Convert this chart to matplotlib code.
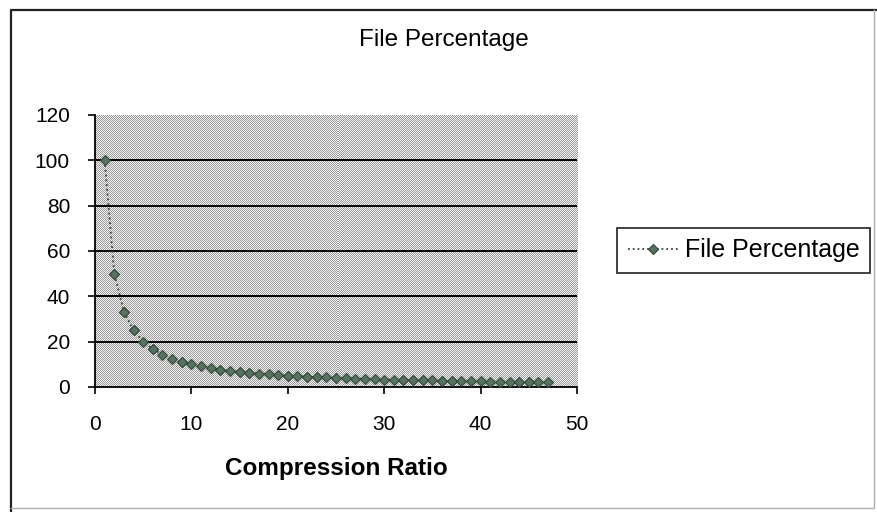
import matplotlib
matplotlib.use("Agg")
import matplotlib.pyplot as plt
import numpy as np
from matplotlib.lines import Line2D

plt.rcParams['font.family'] = ['Liberation Sans', 'DejaVu Sans']

# compression ratio vs file percentage
ratio = list(range(1, 48))
percent = [100, 50, 33.3, 25, 20, 16.7, 14.3, 12.5, 11.1, 10,
           9.1, 8.3, 7.7, 7.1, 6.7, 6.3, 5.9, 5.6, 5.3, 5,
           4.8, 4.5, 4.3, 4.2, 4, 3.8, 3.7, 3.6, 3.4, 3.3,
           3.2, 3.1, 3.0, 2.9, 2.9, 2.8, 2.7, 2.6, 2.6, 2.5,
           2.4, 2.4, 2.3, 2.3, 2.2, 2.2, 2.1]
y_ticks = [0, 20, 40, 60, 80, 100, 120]
x_ticks = [0, 10, 20, 30, 40, 50]

W, H = 877, 512
fig = plt.figure(figsize=(W / 100, H / 100), dpi=100)
fig.patch.set_facecolor('white')

# outer chart frame: dark top/left, faint right/bottom
fig.add_artist(Line2D([11 / W, 11 / W, 1], [0, 1 - 10 / H, 1 - 10 / H],
                      transform=fig.transFigure, color='#222222', lw=1.6))
fig.add_artist(Line2D([11 / W, 874 / W, 874 / W], [1 - 508 / H, 1 - 508 / H, 1 - 10 / H],
                      transform=fig.transFigure, color='#b0b0b0', lw=1.0))

L, R, T, B = 95, 577, 115, 387
ax = fig.add_axes([L / W, 1 - B / H, (R - L) / W, (B - T) / H])

# dithered gray fill of the plot area
yy, xx = np.indices((B - T, R - L))
checker = (xx + yy) % 2
ax.imshow(checker, cmap=matplotlib.colors.ListedColormap(['#999999', '#f5f5f5']),
          extent=(0, 50, 0, 120), aspect='auto', interpolation='nearest', zorder=0)

for v in y_ticks[1:-1]:
    ax.axhline(v, color='black', lw=1.4, zorder=1)

ax.plot(ratio, percent, linestyle=':', color='#33473a', lw=1.3,
        marker='D', markersize=5, markerfacecolor='#587262',
        markeredgecolor='#2f4636', markeredgewidth=0.8,
        label='File Percentage', zorder=3)

ax.set_xlim(0, 50)
ax.set_ylim(0, 120)
ax.set_xticks(x_ticks)
ax.set_yticks(y_ticks)
ax.tick_params(direction='out', length=5, width=1.2, colors='black')
ax.tick_params(axis='y', labelsize=15, pad=13)
ax.tick_params(axis='x', labelsize=15, pad=15)
for s in ['top', 'right']:
    ax.spines[s].set_visible(False)
for s in ['left', 'bottom']:
    ax.spines[s].set_linewidth(1.3)

ax.set_xlabel('Compression Ratio', fontsize=17.5, fontweight='bold', labelpad=17)

fig.text(444 / W, 1 - 40 / H, 'File Percentage', ha='center', va='center',
         fontsize=17.5)

leg = ax.legend(loc='upper left', bbox_to_anchor=(617 / W, 1 - 228 / H),
                bbox_transform=fig.transFigure, fontsize=18, frameon=True,
                fancybox=False, edgecolor='black', handlelength=2.0,
                borderpad=0.42, handletextpad=0.3, borderaxespad=0)
leg.get_frame().set_linewidth(1.3)

fig.savefig('out.png', dpi=100)
